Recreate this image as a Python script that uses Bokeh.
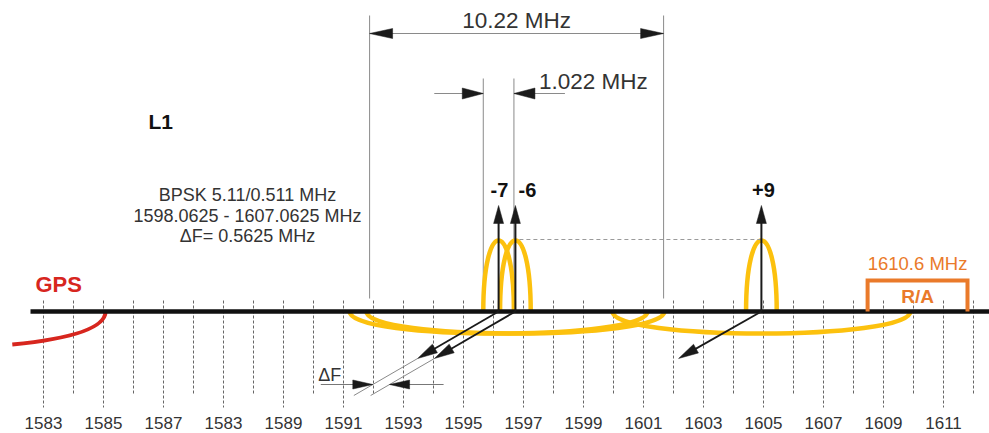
from bokeh.plotting import figure
from bokeh.models import Range1d, ColumnDataSource
from bokeh.core.properties import value
from bokeh.embed import file_html
from bokeh.resources import INLINE

# ---------------- data ----------------
tick_freqs = list(range(1581, 1613))              # every MHz tick
label_freqs = list(range(1581, 1612, 2))          # labelled ticks
tick_labels = ["1583", "1585", "1587", "1583", "1589", "1591", "1593", "1595",
               "1597", "1599", "1601", "1603", "1605", "1607", "1609", "1611"]

channels = ["-7", "-6", "+9"]
channel_freq = [1596.17, 1596.73, 1604.93]        # carrier positions as drawn
narrow_half = 0.511                                # main lobe half width (MHz)
narrow_peak = 71                                   # lobe height
wide_half = 4.97                                   # wide lobe half width as drawn
wide_depth = 22                                    # wide lobe depth (below axis)
carrier_top = 106                                  # carrier arrow height
alias_tip_freq = [1593.47, 1594.03, 1602.17]       # slanted arrow tips
alias_tip_level = -47

gps_start = (1579.96, -33)                         # GPS spectrum tail
gps_ctrl = (1583.05, -24)
gps_end = (1583.07, 0)

ra_freq = [1608.47, 1611.80]
ra_level = 31

dim_wide = [1591.87, 1601.67]                      # "10.22 MHz" marker lines

# ---------------- figure ----------------
W, H = 989, 433
S = 30.0                                           # px per MHz
X0 = 1581 - 43 / S
p = figure(width=W, height=H, x_range=Range1d(X0, X0 + W / S),
           y_range=Range1d(-122, 311), output_backend="svg",
           toolbar_location=None, x_axis_location=None, y_axis_location=None,
           min_border=0)
p.outline_line_color = None
p.xgrid.visible = False
p.ygrid.visible = False
p.background_fill_color = "white"

FONT = value("Liberation Sans")
GRAY = "#8a8a8a"
DARK = "#1a1a1a"
TXT = "#333333"
YEL = "#fcc10e"
ORANGE = "#ea7a2a"
RED = "#d7261e"

heads_x, heads_y = [], []


def head(xt, yt, xf, yf, L=20, Wd=10):
    dx = (xt - xf) * S
    dy = yt - yf
    n = (dx * dx + dy * dy) ** 0.5
    ux, uy = dx / n, dy / n
    bx, by = xt * S - L * ux, yt - L * uy
    qx, qy = -uy, ux
    heads_x.append([xt, (bx + Wd / 2 * qx) / S, (bx - Wd / 2 * qx) / S])
    heads_y.append([yt, by + Wd / 2 * qy, by - Wd / 2 * qy])
    return (bx + 2 * ux) / S, by + 2 * uy


def label(x, y, t, size, color=TXT, align="center", bold=False):
    p.text(x=x, y=y, text=t, text_align=align, text_baseline="middle",
           text_font=FONT, text_font_size=size, text_color=color,
           text_font_style="bold" if bold else "normal")


# ticks
lab = set(label_freqs)
p.segment(x0=tick_freqs, y0=[11] * len(tick_freqs), x1=tick_freqs,
          y1=[-96 if f in lab else -84 for f in tick_freqs],
          line_color="#666666", line_width=1, line_dash="3 2")
label(label_freqs, [-111] * len(label_freqs), tick_labels, "17px")

# 10.22 MHz dimension
p.segment(x0=dim_wide, y0=[13, 13], x1=dim_wide, y1=[296, 296],
          line_color=GRAY, line_width=1)
p.segment(x0=[dim_wide[0]], y0=[278], x1=[dim_wide[1]], y1=[278],
          line_color=GRAY, line_width=1)
head(dim_wide[0], 278, dim_wide[1], 278, L=23, Wd=10)
head(dim_wide[1], 278, dim_wide[0], 278, L=23, Wd=10)
label([(dim_wide[0] + dim_wide[1]) / 2], [291.5], ["10.22 MHz"], "22.5px")

# 1.022 MHz dimension (main lobe of -7)
l1 = channel_freq[0] - narrow_half
r1 = channel_freq[0] + narrow_half
p.segment(x0=[l1, r1], y0=[13, 13], x1=[l1, r1], y1=[233, 233],
          line_color=GRAY, line_width=1)
p.segment(x0=[l1 - 49 / S, r1], y0=[218, 218], x1=[l1, r1 + 51 / S],
          y1=[218, 218], line_color=GRAY, line_width=1)
head(l1, 218, l1 - 1, 218, L=21, Wd=11)
head(r1, 218, r1 + 1, 218, L=21, Wd=11)
label([r1 + 25 / S], [230], ["1.022 MHz"], "22.5px", align="left")

# wide lobes (below axis) and narrow main lobes
src = ColumnDataSource(dict(
    f=channel_freq,
    xl=[f - wide_half for f in channel_freq],
    xr=[f + wide_half for f in channel_freq],
    nl=[f - narrow_half for f in channel_freq],
    nr=[f + narrow_half for f in channel_freq],
))
p.bezier(x0="xl", y0=0, x1="xr", y1=0, cx0="xl", cy0=-wide_depth * 4 / 3,
         cx1="xr", cy1=-wide_depth * 4 / 3, source=src, line_color=YEL,
         line_width=4.5)
p.bezier(x0="nl", y0=0, x1="nr", y1=0, cx0="nl", cy0=narrow_peak * 4 / 3,
         cx1="nr", cy1=narrow_peak * 4 / 3, source=src, line_color=YEL,
         line_width=4.5)

# equal level dashed line
p.line(x=[channel_freq[1] + 4 / S, channel_freq[2]], y=[narrow_peak + 1] * 2,
       line_color="#9a9a9a", line_width=1, line_dash="4 3")

# GPS tail
p.quadratic(x0=[gps_start[0]], y0=[gps_start[1]], x1=[gps_end[0]],
            y1=[gps_end[1]], cx=[gps_ctrl[0]], cy=[gps_ctrl[1]],
            line_color=RED, line_width=4)
label([1580.73], [27], ["GPS"], "22px", color=RED, align="left", bold=True)

# frequency axis line
p.line(x=[1581 - 13 / S, X0 + W / S], y=[0, 0], line_color="#111111",
       line_width=4.5)

# R/A band
p.line(x=[ra_freq[0], ra_freq[0], ra_freq[1], ra_freq[1]],
       y=[0, ra_level, ra_level, 0], line_color=ORANGE, line_width=4,
       line_join="miter")
ra_mid = (ra_freq[0] + ra_freq[1]) / 2
label([ra_mid], [15], ["R/A"], "19px", color=ORANGE, bold=True)
label([ra_mid], [48], ["1610.6 MHz"], "18.5px", color=ORANGE)

# carrier arrows (up)
for f in channel_freq:
    bx, by = head(f, carrier_top, f, 0, L=18, Wd=10)
    p.segment(x0=[f], y0=[0], x1=[f], y1=[by], line_color=DARK, line_width=2)
label([channel_freq[0] + 0.03, channel_freq[1] + 0.4, channel_freq[2] + 0.07],
      [122, 122, 121.5], channels, "20px", color="#111111", bold=True)

# slanted arrows (down-left)
for f, t in zip(channel_freq, alias_tip_freq):
    bx, by = head(t, alias_tip_level, f, 0, L=20, Wd=10)
    p.segment(x0=[f], y0=[0], x1=[bx], y1=[by], line_color=DARK,
              line_width=1.8)

# extension lines and delta-F dimension
for f, t in zip(channel_freq[:2], alias_tip_freq[:2]):
    k = -84 / alias_tip_level
    e = f + (t - f) * k
    p.segment(x0=[t], y0=[alias_tip_level], x1=[e], y1=[-84],
              line_color=GRAY, line_width=1)
k = -73 / alias_tip_level
fl = channel_freq[0] + (alias_tip_freq[0] - channel_freq[0]) * k
fr = channel_freq[1] + (alias_tip_freq[1] - channel_freq[1]) * k
p.segment(x0=[fl - 52 / S, fr], y0=[-73, -73], x1=[fl, fr + 54 / S],
          y1=[-73, -73], line_color="#777777", line_width=1)
head(fl, -73, fl - 1, -73, L=20, Wd=9)
head(fr, -73, fr + 1, -73, L=20, Wd=9)
label([fl - 43 / S], [-63], ["\u0394F"], "18px")

p.patches(xs=heads_x, ys=heads_y, fill_color=DARK, line_color=DARK,
          line_width=0.5)

# labels
label([1584.5], [190], ["L1"], "21px", color="#111111", align="left",
      bold=True)
label([1587.8] * 3, [117, 95.5, 76],
      ["BPSK 5.11/0.511 MHz", "1598.0625 - 1607.0625 MHz",
       "\u0394F= 0.5625 MHz"], "18px")

open("out.html", "w").write(file_html(p, INLINE))
